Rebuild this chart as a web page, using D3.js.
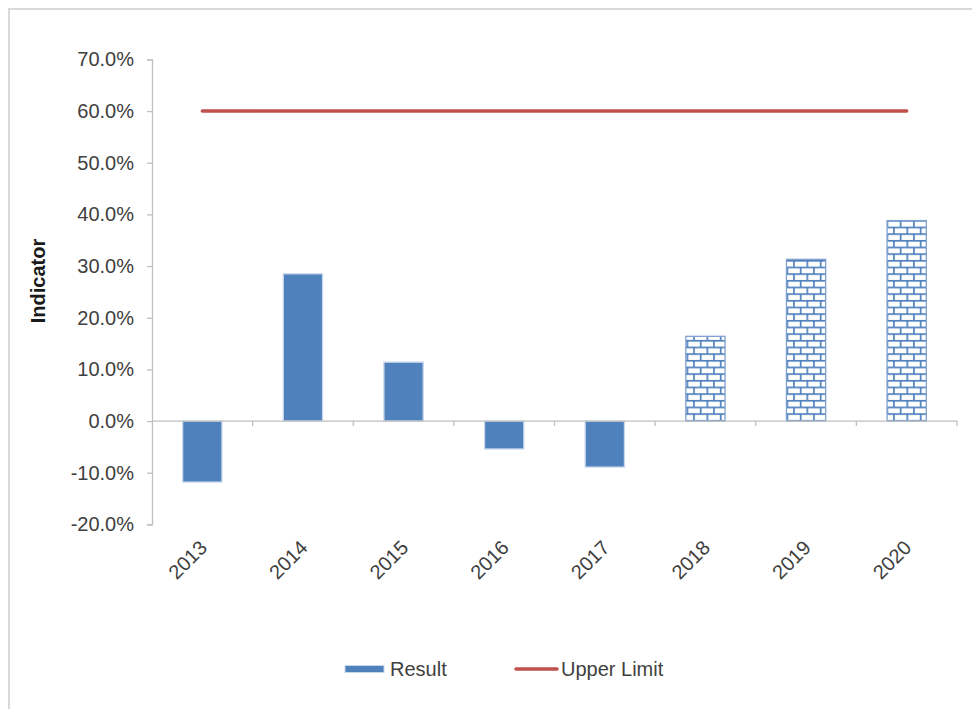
<!DOCTYPE html>
<html>
<head>
<meta charset="utf-8">
<script src="https://cdn.jsdelivr.net/npm/d3@7"></script>
<style>
  html, body { margin: 0; padding: 0; background: #fff; }
  svg { display: block; font-family: "Liberation Sans", Arial, sans-serif; }
</style>
</head>
<body>
<svg id="chart" width="972" height="709"></svg>
<script>
// Yearly indicator results (percent); the later years are forecasts
const years = ["2013", "2014", "2015", "2016", "2017", "2018", "2019", "2020"];
const results = [-11.8, 28.5, 11.4, -5.4, -8.9, 16.4, 31.3, 38.8];
const forecastYears = ["2018", "2019", "2020"];
const upperLimit = [60, 60, 60, 60, 60, 60, 60, 60];
const yTicks = [-20, -10, 0, 10, 20, 30, 40, 50, 60, 70];

const BLUE = "#4F81BD";
const RED = "#C0504D";
const AXIS = "#BFBFBF";
const TEXT = "#404040";

const svg = d3.select("#chart");

// Brick hatch for the forecast bars
const defs = svg.append("defs");
const s = 13.33, h = s / 2;
const pat = defs.append("pattern")
  .attr("id", "brick")
  .attr("patternUnits", "userSpaceOnUse")
  .attr("width", s).attr("height", s);
pat.append("rect").attr("width", s).attr("height", s).attr("fill", "#fff");
const pg = pat.append("g").attr("stroke", BLUE).attr("stroke-width", 1.7);
pg.append("line").attr("x1", 0).attr("x2", s).attr("y1", 0.85).attr("y2", 0.85);
pg.append("line").attr("x1", 0).attr("x2", s).attr("y1", h + 0.85).attr("y2", h + 0.85);
pg.append("line").attr("x1", 0.85).attr("x2", 0.85).attr("y1", 0).attr("y2", h);
pg.append("line").attr("x1", h + 0.85).attr("x2", h + 0.85).attr("y1", h).attr("y2", s);

// Outer chart frame
svg.append("path")
  .attr("d", "M9,712 V9 H975")
  .attr("fill", "none")
  .attr("stroke", "#D9D9D9")
  .attr("stroke-width", 2);

const x = d3.scaleBand()
  .domain(years)
  .range([152, 957])
  .paddingInner(0.61)
  .paddingOuter(0.305);

const y = d3.scaleLinear()
  .domain([-20, 70])
  .range([524.4, 59.4]);

// Y axis
const yAxis = svg.append("g")
  .attr("transform", "translate(152,0)")
  .call(d3.axisLeft(y)
    .tickValues(yTicks)
    .tickSize(5)
    .tickPadding(13)
    .tickFormat(d => d.toFixed(1) + "%"));
yAxis.select(".domain").attr("stroke", AXIS).attr("stroke-width", 1.3);
yAxis.selectAll(".tick line").attr("stroke", AXIS).attr("stroke-width", 1.3);
yAxis.selectAll(".tick text")
  .attr("fill", TEXT)
  .attr("font-size", 20)
  .attr("font-family", "'Liberation Sans', Arial, sans-serif");

// Y axis title
svg.append("text")
  .attr("transform", "translate(45,281) rotate(-90)")
  .attr("text-anchor", "middle")
  .attr("font-size", 20)
  .attr("font-weight", "bold")
  .attr("fill", "#1a1a1a")
  .text("Indicator");

// Bars
svg.append("g").selectAll("rect")
  .data(years)
  .join("rect")
  .attr("x", d => x(d))
  .attr("width", x.bandwidth())
  .attr("y", (d, i) => y(Math.max(0, results[i])))
  .attr("height", (d, i) => Math.abs(y(results[i]) - y(0)))
  .attr("fill", d => forecastYears.includes(d) ? "url(#brick)" : BLUE)
  .attr("stroke", d => forecastYears.includes(d) ? "#7FA0D0" : "#C6D6EC")
  .attr("stroke-width", 1.3);

// Category axis along zero, ticks on the category boundaries
const x0 = x.range()[0], x1 = x.range()[1];
svg.append("line")
  .attr("x1", x0).attr("x2", x1)
  .attr("y1", y(0)).attr("y2", y(0))
  .attr("stroke", AXIS).attr("stroke-width", 1.3);
svg.append("g").selectAll("line")
  .data(d3.range(1, years.length + 1))
  .join("line")
  .attr("x1", i => x0 + i * x.step())
  .attr("x2", i => x0 + i * x.step())
  .attr("y1", y(0)).attr("y2", y(0) + 5)
  .attr("stroke", AXIS).attr("stroke-width", 1.3);

// Year labels below the plot, turned 45 degrees
svg.append("g").selectAll("text")
  .data(years)
  .join("text")
  .attr("transform", d => `translate(${x(d) + x.bandwidth() / 2 + 6},549) rotate(-45)`)
  .attr("text-anchor", "end")
  .attr("font-size", 20)
  .attr("fill", TEXT)
  .text(d => d);

// Upper limit line
const line = d3.line()
  .x((d, i) => x(years[i]) + x.bandwidth() / 2)
  .y(d => y(d));
svg.append("path")
  .datum(upperLimit)
  .attr("d", line)
  .attr("fill", "none")
  .attr("stroke", RED)
  .attr("stroke-width", 3.5)
  .attr("stroke-linecap", "round");

// Legend
const lg = svg.append("g");
lg.append("rect")
  .attr("x", 345).attr("y", 665.5)
  .attr("width", 39).attr("height", 7)
  .attr("fill", BLUE)
  .attr("stroke", "#C6D6EC").attr("stroke-width", 1);
lg.append("text")
  .attr("x", 390).attr("y", 676)
  .attr("font-size", 20).attr("fill", TEXT)
  .text("Result");
lg.append("line")
  .attr("x1", 516).attr("x2", 557)
  .attr("y1", 669).attr("y2", 669)
  .attr("stroke", RED).attr("stroke-width", 3.5)
  .attr("stroke-linecap", "round");
lg.append("text")
  .attr("x", 561).attr("y", 676)
  .attr("font-size", 20).attr("fill", TEXT)
  .text("Upper Limit");
</script>
</body>
</html>
